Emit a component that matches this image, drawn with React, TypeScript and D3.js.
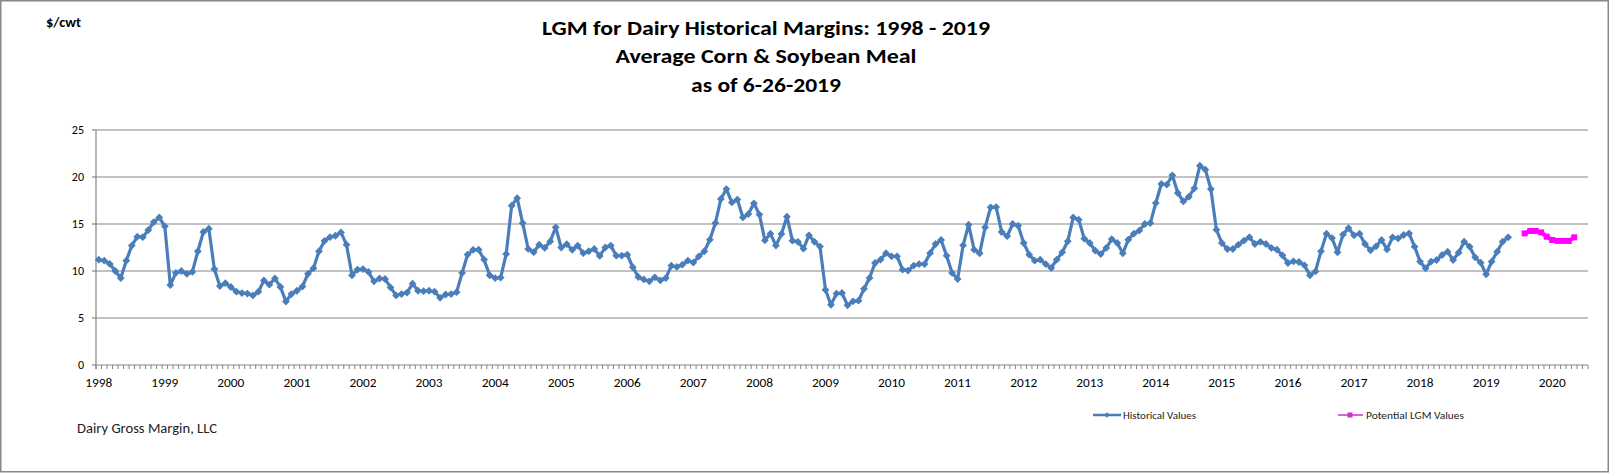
import React from 'react';
import * as d3 from 'd3';

// ---------- DATA ----------
const titleLines = [
  'LGM for Dairy Historical Margins: 1998 - 2019',
  'Average Corn & Soybean Meal',
  'as of 6-26-2019',
];
const yTicks = [0, 5, 10, 15, 20, 25];
const yearLabels = [
  '1998', '1999', '2000', '2001', '2002', '2003', '2004', '2005', '2006', '2007', '2008', '2009',
  '2010', '2011', '2012', '2013', '2014', '2015', '2016', '2017', '2018', '2019', '2020',
];
const axisStartMonth = '1998-01';
const axisEndMonth = '2020-07';
const historicalStartMonth = '1998-01';
const potentialStartMonth = '2019-08';

const hist1998 = [11.2, 11.1, 10.75, 10.0, 9.25, 11.1, 12.7, 13.65, 13.6, 14.35, 15.2, 15.7];
const hist1999 = [14.75, 8.5, 9.8, 10.0, 9.7, 9.9, 12.1, 14.15, 14.5, 10.2, 8.4, 8.7];
const hist2000 = [8.3, 7.8, 7.65, 7.6, 7.4, 7.8, 9.0, 8.55, 9.2, 8.3, 6.75, 7.55];
const hist2001 = [7.9, 8.35, 9.7, 10.3, 12.1, 13.2, 13.6, 13.75, 14.1, 12.8, 9.55, 10.15];
const hist2002 = [10.2, 9.9, 8.9, 9.2, 9.15, 8.25, 7.4, 7.55, 7.7, 8.65, 7.9, 7.85];
const hist2003 = [7.9, 7.8, 7.15, 7.5, 7.55, 7.75, 9.8, 11.75, 12.25, 12.27, 11.2, 9.55];
const hist2004 = [9.25, 9.3, 11.8, 16.95, 17.75, 15.1, 12.35, 12.0, 12.8, 12.45, 13.15, 14.65];
const hist2005 = [12.5, 12.85, 12.25, 12.7, 11.9, 12.1, 12.35, 11.6, 12.5, 12.7, 11.63, 11.63];
const hist2006 = [11.74, 10.4, 9.36, 9.1, 8.9, 9.33, 9.0, 9.25, 10.57, 10.43, 10.67, 11.1];
const hist2007 = [10.9, 11.56, 12.1, 13.33, 15.1, 17.66, 18.72, 17.3, 17.6, 15.7, 16.06, 17.2];
const hist2008 = [16.0, 13.26, 13.97, 12.7, 13.94, 15.78, 13.23, 13.1, 12.38, 13.8, 13.1, 12.6];
const hist2009 = [8.0, 6.4, 7.6, 7.66, 6.35, 6.77, 6.84, 8.1, 9.26, 10.85, 11.2, 11.9];
const hist2010 = [11.56, 11.56, 10.14, 10.04, 10.57, 10.74, 10.74, 11.9, 12.87, 13.3, 11.63, 9.79];
const hist2011 = [9.15, 12.73, 14.93, 12.27, 11.88, 14.65, 16.77, 16.8, 14.15, 13.7, 15.0, 14.82];
const hist2012 = [12.98, 11.74, 11.1, 11.2, 10.74, 10.32, 11.2, 11.99, 13.16, 15.7, 15.46, 13.44];
const hist2013 = [12.98, 12.16, 11.8, 12.45, 13.4, 12.98, 11.88, 13.33, 13.97, 14.3, 15.0, 15.1];
const hist2014 = [17.23, 19.26, 19.18, 20.18, 18.3, 17.4, 17.9, 18.8, 21.2, 20.78, 18.72, 14.4];
const hist2015 = [12.98, 12.34, 12.34, 12.8, 13.23, 13.6, 12.87, 13.1, 12.87, 12.45, 12.27, 11.67];
const hist2016 = [10.85, 11.03, 10.96, 10.6, 9.54, 9.96, 12.09, 13.97, 13.5, 11.99, 13.87, 14.57];
const hist2017 = [13.8, 13.97, 12.87, 12.2, 12.62, 13.3, 12.3, 13.58, 13.47, 13.83, 14.0, 12.59];
const hist2018 = [11.0, 10.28, 11.0, 11.17, 11.7, 12.06, 11.17, 11.95, 13.12, 12.59, 11.45, 10.89];
const hist2019 = [9.65, 11.0, 12.06, 13.12, 13.58];

const potentialValues = [14.0, 14.26, 14.26, 14.1, 13.65, 13.3, 13.2, 13.2, 13.2, 13.58];

const historicalValues = [
  ...hist1998, ...hist1999, ...hist2000, ...hist2001, ...hist2002, ...hist2003, ...hist2004,
  ...hist2005, ...hist2006, ...hist2007, ...hist2008, ...hist2009, ...hist2010, ...hist2011,
  ...hist2012, ...hist2013, ...hist2014, ...hist2015, ...hist2016, ...hist2017, ...hist2018,
  ...hist2019,
];

// ---------- HELPERS ----------
const monthIndex = (m: string) => {
  const [y, mo] = m.split('-').map(Number);
  const [y0, m0] = axisStartMonth.split('-').map(Number);
  return (y - y0) * 12 + (mo - m0);
};

const W = 1612;
const H = 473;
const left = 96;
const right = 1588;
const top = 130;
const bottom = 365;

const FONT = "Calibri, Carlito, Lato, 'Open Sans', sans-serif";
const BLUE = '#4A7EBB';
const PINK = '#FF00FF';
const GRID = '#868686';

export default function App() {
  const nCats = monthIndex(axisEndMonth) + 1;
  const x = d3.scaleLinear().domain([0, nCats]).range([left, right]);
  const y = d3.scaleLinear().domain([0, 25]).range([bottom, top]);
  const cx = (i: number) => x(i + 0.5);

  const hStart = monthIndex(historicalStartMonth);
  const pStart = monthIndex(potentialStartMonth);
  const histPts = historicalValues.map((v, i) => [cx(hStart + i), y(v)] as [number, number]);
  const potPts = potentialValues.map((v, i) => [cx(pStart + i), y(v)] as [number, number]);
  const line = d3.line<[number, number]>().x((d) => d[0]).y((d) => d[1]);

  const diamond = (s: number) => `M0,${-s}L${s},0L0,${s}L${-s},0Z`;

  const titleWidths = [448, 301, 150];
  const titleY = [35, 63, 92];

  return (
    <svg width={W} height={H} style={{ position: 'absolute', left: 0, top: 0, background: '#fff' }}>
      <rect x={0.75} y={0.75} width={1607.5} height={471} fill="#fff" stroke="#888" strokeWidth={1.5} />

      {/* Title */}
      {titleLines.map((t, i) => (
        <text
          key={i}
          x={766}
          y={titleY[i]}
          textAnchor="middle"
          fontFamily={FONT}
          fontWeight="bold"
          fontSize={20.5}
          textLength={titleWidths[i]}
          lengthAdjust="spacingAndGlyphs"
          fill="#000"
        >
          {t}
        </text>
      ))}

      <text x={46} y={27} fontFamily={FONT} fontWeight="bold" fontSize={13} textLength={35} lengthAdjust="spacingAndGlyphs">
        $/cwt
      </text>

      {/* Gridlines & y ticks */}
      {yTicks.map((t) => (
        <g key={t}>
          <line x1={left} x2={right} y1={y(t)} y2={y(t)} stroke={GRID} strokeWidth={1.2} />
          <line x1={left - 4} x2={left} y1={y(t)} y2={y(t)} stroke={GRID} strokeWidth={1.2} />
          <text x={84} y={y(t)} dy="0.35em" textAnchor="end" fontFamily={FONT} fontSize={12} fill="#000">
            {t}
          </text>
        </g>
      ))}
      <line x1={left} x2={left} y1={top} y2={bottom + 4} stroke={GRID} strokeWidth={1.2} />

      {/* x ticks (monthly) */}
      {d3.range(nCats + 1).map((k) => (
        <line key={k} x1={x(k)} x2={x(k)} y1={bottom} y2={bottom + 4} stroke={GRID} strokeWidth={1} />
      ))}
      {yearLabels.map((lab, k) => (
        <text key={lab} x={cx(k * 12)} y={387} textAnchor="middle" fontFamily={FONT} fontSize={12} fill="#000" textLength={27} lengthAdjust="spacingAndGlyphs">
          {lab}
        </text>
      ))}

      {/* Historical series */}
      <path d={line(histPts) || ''} fill="none" stroke={BLUE} strokeWidth={3.2} strokeLinejoin="round" />
      {histPts.map((p, i) => (
        <path key={i} d={diamond(3.9)} transform={`translate(${p[0]},${p[1]})`} fill={BLUE} />
      ))}

      {/* Potential series */}
      <path d={line(potPts) || ''} fill="none" stroke={PINK} strokeWidth={4} strokeLinejoin="round" />
      {potPts.map((p, i) => (
        <rect key={i} x={p[0] - 3} y={p[1] - 3} width={6} height={6} fill={PINK} />
      ))}

      {/* Legend */}
      <line x1={1093} x2={1121} y1={415} y2={415} stroke={BLUE} strokeWidth={2.5} />
      <path d={diamond(2.8)} transform="translate(1107,415)" fill={BLUE} />
      <text x={1123} y={418.5} fontFamily={FONT} fontSize={9.5} fill="#222" textLength={73} lengthAdjust="spacingAndGlyphs">
        Historical Values
      </text>
      <line x1={1338} x2={1363} y1={415} y2={415} stroke="#CC33CC" strokeWidth={1.5} />
      <rect x={1347.5} y={412.5} width={5} height={5} fill="#CC33CC" />
      <text x={1366} y={419} fontFamily={FONT} fontSize={11} fill="#222" textLength={98} lengthAdjust="spacingAndGlyphs">
        Potential LGM Values
      </text>

      <text x={77} y={433} fontFamily={FONT} fontSize={13.5} fill="#222" textLength={140} lengthAdjust="spacingAndGlyphs">
        Dairy Gross Margin, LLC
      </text>
    </svg>
  );
}
